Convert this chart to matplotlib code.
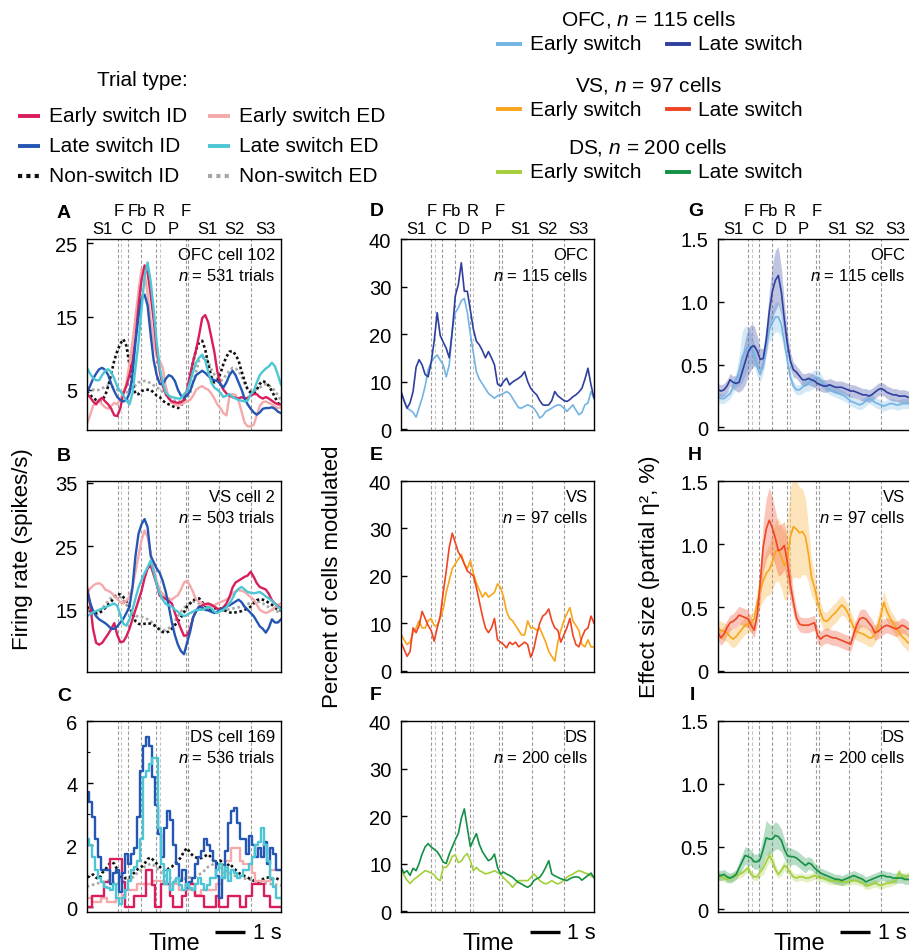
#!/usr/bin/env python3
"""Single-cell and population switch-trial responses in OFC, VS and DS."""

import numpy as np
import matplotlib
matplotlib.use("Agg")
import matplotlib.pyplot as plt
import matplotlib.transforms as mtransforms

plt.rcParams["font.family"] = ["Liberation Sans", "DejaVu Sans"]
plt.rcParams["mathtext.fontset"] = "custom"
plt.rcParams["mathtext.it"] = "Liberation Sans:italic"
plt.rcParams["mathtext.rm"] = "Liberation Sans"

# ---------------------------------------------------------------- data
TIME = np.linspace(0, 6.4, 65)  # s, 0.1 s bins

EVENT_TIMES = [1.01, 1.12, 1.36, 1.79, 2.28, 2.40, 3.26, 3.34, 4.36, 5.40]
EVENT_LOW = [("S1", 0.5), ("C", 1.3), ("D", 2.07), ("P", 2.83),
             ("S1", 3.97), ("S2", 4.86), ("S3", 5.87)]
EVENT_HIGH = [("F", 1.03), ("Fb", 1.67), ("R", 2.37), ("F", 3.26)]

# A: OFC cell 102 (spikes/s)
A_early_id = [4.4, 4.0, 3.4, 3.0, 3.6, 3.9, 3.4, 3.0, 2.4, 1.5,
              1.4, 2.5, 4.5, 5.5, 7.0, 8.8, 12.0, 16.5, 20.0, 22.0,
              21.0, 18.0, 14.5, 10.5, 7.5, 5.5, 4.4, 3.8, 3.4, 3.3,
              3.2, 3.3, 3.6, 5.0, 7.0, 8.8, 10.5, 12.5, 14.8, 15.2,
              14.2, 12.2, 10.2, 7.5, 5.8, 5.0, 4.5, 4.2, 4.0, 3.9,
              3.8, 4.0, 3.8, 3.9, 4.2, 4.4, 4.4, 4.0, 3.8, 4.0,
              3.8, 3.5, 3.2, 3.0, 3.0]
A_early_ed = [0.3, 1.5, 2.8, 3.3, 3.5, 3.0, 2.6, 2.4, 2.8, 3.2,
              3.0, 3.8, 4.5, 6.0, 8.5, 11.5, 15.0, 18.5, 21.5, 21.0,
              18.0, 14.5, 11.5, 9.5, 9.0, 8.0, 5.5, 3.8, 3.2, 3.0,
              2.8, 3.0, 3.2, 3.4, 3.6, 4.2, 5.0, 5.3, 5.5, 5.2,
              5.0, 4.5, 3.8, 3.0, 2.5, 1.8, 1.5, 4.2, 4.4, 4.3,
              3.5, 2.0, 0.5, 0.0, 0.0, 0.2, 1.5, 2.8, 3.3, 3.4,
              3.2, 3.0, 2.7, 2.5, 2.6]
A_late_id = [4.6, 5.5, 6.5, 7.2, 7.8, 8.0, 7.7, 7.0, 5.8, 4.8,
             4.0, 3.6, 3.4, 3.6, 4.5, 7.0, 11.5, 15.0, 17.5, 18.0,
             16.5, 12.5, 9.0, 7.0, 5.8, 5.8, 6.5, 7.0, 6.8, 6.2,
             5.0, 4.2, 3.9, 4.2, 4.8, 6.0, 7.0, 7.3, 7.6, 7.3,
             6.9, 6.5, 6.3, 6.2, 5.8, 5.3, 6.0, 7.0, 7.6, 7.0,
             6.0, 5.0, 3.8, 3.0, 2.4, 1.9, 1.6, 1.9, 2.4, 2.5,
             2.5, 2.6, 2.4, 2.0, 1.8]
A_late_ed = [8.0, 7.2, 6.6, 6.3, 6.3, 7.0, 7.6, 7.8, 7.4, 6.5,
             5.4, 4.8, 4.2, 3.5, 3.0, 4.5, 8.0, 11.5, 16.0, 20.5,
             22.4, 19.8, 16.0, 11.5, 8.0, 6.0, 4.6, 4.2, 4.0, 3.9,
             3.8, 3.8, 4.4, 4.8, 6.0, 7.5, 8.7, 9.4, 9.8, 9.0,
             7.4, 6.0, 5.3, 5.0, 4.6, 4.0, 4.2, 4.4, 4.0, 3.8,
             3.6, 3.5, 3.4, 3.5, 4.4, 4.8, 6.0, 7.0, 7.5, 7.9,
             8.2, 8.7, 8.2, 7.0, 5.7]
A_non_id = [4.8, 4.3, 3.9, 3.6, 3.4, 3.6, 4.2, 5.5, 7.2, 9.0,
            10.3, 11.3, 11.9, 11.0, 8.5, 6.0, 4.4, 4.4, 4.8, 5.0,
            5.0, 5.0, 4.6, 4.2, 4.0, 3.5, 3.2, 3.0, 2.8, 2.6,
            2.5, 2.8, 3.6, 4.8, 6.5, 8.8, 10.5, 11.5, 11.7, 10.5,
            8.5, 6.8, 6.0, 6.2, 7.2, 8.5, 9.5, 10.2, 10.3, 9.8,
            9.0, 7.5, 6.2, 5.0, 4.6, 4.5, 5.0, 5.8, 6.2, 6.0,
            5.5, 4.8, 4.0, 3.2, 2.8]
A_non_ed = [5.3, 5.2, 5.0, 4.9, 5.0, 5.2, 5.4, 5.6, 5.5, 5.2,
            5.0, 4.8, 4.6, 4.6, 5.0, 5.3, 5.6, 6.0, 6.1, 6.2,
            6.1, 5.9, 5.6, 5.3, 5.1, 4.7, 4.3, 3.8, 3.6, 3.5,
            3.4, 3.4, 3.6, 3.8, 4.5, 6.0, 7.5, 9.0, 9.3, 9.4,
            8.8, 7.8, 7.1, 6.6, 6.2, 6.5, 7.1, 7.6, 8.0, 7.9,
            7.6, 6.8, 5.8, 5.2, 4.9, 4.9, 5.1, 5.3, 5.6, 5.8,
            5.6, 5.2, 4.9, 4.2, 3.6]

# B: VS cell 2 (spikes/s)
B_early_id = [18.6, 16.0, 12.0, 9.8, 9.5, 9.8, 10.5, 11.2, 12.0, 12.9,
              11.0, 9.9, 10.0, 10.8, 12.0, 13.5, 15.0, 16.5, 18.0, 20.0,
              21.5, 22.0, 20.5, 19.0, 17.2, 17.0, 16.7, 16.4, 16.0, 14.5,
              13.2, 12.0, 10.9, 11.0, 12.0, 13.8, 14.8, 15.5, 15.7, 15.9,
              16.0, 15.8, 15.5, 15.2, 15.0, 15.4, 16.0, 17.0, 18.5, 19.3,
              19.6, 19.9, 20.2, 20.4, 21.0, 20.2, 19.2, 18.6, 18.4, 18.2,
              17.5, 16.5, 16.0, 15.6, 15.3]
B_early_ed = [17.6, 18.3, 18.8, 19.1, 19.2, 18.9, 18.2, 18.0, 17.7, 17.2,
              16.7, 16.2, 16.0, 16.4, 17.1, 18.5, 21.0, 23.5, 26.0, 27.5,
              26.5, 24.0, 21.5, 19.5, 18.1, 17.5, 17.0, 16.8, 16.6, 17.0,
              17.3, 18.2, 19.3, 19.6, 18.8, 17.8, 16.6, 16.3, 16.0, 15.8,
              15.6, 15.5, 15.7, 16.0, 16.2, 16.4, 16.6, 17.0, 17.6, 17.9,
              18.1, 18.0, 17.8, 17.4, 17.0, 16.6, 15.8, 15.0, 14.7, 14.5,
              14.7, 15.0, 15.4, 15.8, 16.0]
B_late_id = [18.1, 16.2, 14.8, 14.0, 13.5, 13.2, 12.9, 12.5, 12.0, 12.0,
             12.4, 13.0, 13.6, 14.5, 15.5, 18.5, 23.5, 27.0, 28.5, 29.3,
             28.0, 23.5, 22.5, 21.5, 20.8, 19.5, 17.8, 15.5, 13.0, 11.0,
             9.5, 8.5, 8.0, 9.8, 11.5, 13.8, 14.8, 15.5, 15.3, 15.0,
             14.9, 14.7, 14.5, 14.7, 15.0, 15.2, 15.5, 15.7, 16.0, 16.3,
             16.6, 16.2, 15.5, 15.0, 14.5, 14.0, 13.2, 12.4, 12.0, 11.4,
             12.2, 13.5, 13.0, 13.0, 13.5]
B_late_ed = [14.0, 14.3, 14.6, 14.8, 15.0, 15.2, 15.4, 15.6, 15.8, 16.0,
             15.6, 14.2, 12.8, 12.5, 13.5, 15.0, 16.8, 18.5, 19.7, 20.8,
             21.7, 22.8, 21.0, 19.0, 17.6, 16.6, 15.9, 15.7, 15.5, 15.0,
             14.7, 14.3, 14.0, 14.2, 14.5, 14.7, 15.0, 15.0, 15.0, 15.2,
             15.5, 15.2, 14.7, 14.5, 14.8, 15.0, 15.4, 16.0, 16.8, 17.8,
             18.3, 18.6, 18.2, 17.8, 17.7, 17.6, 17.7, 17.8, 17.5, 17.1,
             16.8, 16.4, 16.0, 15.5, 15.0]
B_non_id = [15.5, 14.8, 14.5, 14.5, 14.5, 14.8, 15.3, 15.8, 16.3, 17.0,
            17.5, 17.4, 17.0, 16.4, 15.5, 14.5, 13.2, 12.8, 12.7, 12.8,
            12.9, 12.8, 12.6, 12.3, 11.8, 11.5, 11.4, 11.6, 12.0, 12.6,
            13.2, 13.8, 14.6, 15.5, 16.0, 16.5, 16.7, 16.8, 16.2, 15.6,
            15.2, 15.0, 15.2, 15.3, 15.2, 15.0, 14.8, 14.6, 14.5, 14.6,
            14.7, 14.8, 15.0, 15.2, 15.5, 16.0, 16.5, 16.7, 16.6, 16.4,
            16.1, 15.8, 15.3, 15.0, 14.9]
B_non_ed = [15.0, 14.6, 14.2, 14.2, 14.6, 15.2, 15.8, 16.4, 16.9, 17.2,
            17.2, 17.0, 16.5, 15.8, 15.0, 14.3, 14.0, 14.0, 13.9, 13.7,
            13.5, 13.2, 12.8, 12.4, 12.0, 11.8, 11.8, 12.1, 12.6, 13.3,
            14.0, 14.7, 15.3, 15.8, 16.1, 16.3, 16.2, 16.0, 15.6, 15.3,
            15.1, 15.0, 14.9, 14.8, 14.8, 14.9, 15.0, 15.1, 15.2, 15.3,
            15.4, 15.5, 15.7, 15.9, 16.1, 16.3, 16.3, 16.2, 16.0, 15.7,
            15.4, 15.1, 14.9, 14.7, 14.6]

# C: DS cell 169 (spikes/s)
C_early_id = [0, 0, 0.35, 0.35, 0.35, 0.35, 0.8, 0.8, 1.55, 1.55,
              1.55, 1.55, 0.8, 0, 0, 0, 0.35, 0.35, 0.35, 0.35,
              1.2, 1.2, 0.7, 0, 0, 0.75, 0.75, 0.75, 0.35, 0,
              0, 0, 0.35, 0.75, 0.75, 0.75, 0.35, 0.35, 0.35, 0,
              0, 0, 0, 0.35, 0, 0, 0, 0.35, 0.35, 0.35,
              0.35, 0, 0, 0.35, 0.35, 0.75, 0.75, 0.75, 0.75, 0.35,
              0.35, 0, 0, 0, 0]
C_early_ed = [0.3, 0.3, 0.15, 0.15, 0.15, 0.3, 0.3, 0.15, 0.15, 0.15,
              0.3, 0.3, 0.4, 0.55, 0.55, 0.55, 0.55, 0.75, 0.75, 0.75,
              0.75, 0.75, 0.85, 0.85, 0.85, 0.85, 0.85, 0.75, 0.75, 0.75,
              0.75, 0.55, 0.55, 0.55, 0.55, 0.55, 0.4, 0.4, 0.55, 0.55,
              0.55, 0.55, 0.55, 0.75, 0.75, 1.1, 1.5, 1.5, 1.9, 1.9,
              1.9, 1.5, 1.4, 1.4, 1.4, 1.1, 0.85, 0.85, 0.85, 0.85,
              0.85, 1.2, 1.2, 1.2, 1.2]
C_late_id = [3.7, 3.4, 2.9, 2.2, 1.6, 1.2, 1.2, 1.2, 0.75, 1.1,
             1.2, 0.5, 1.1, 1.7, 1.4, 1.7, 1.9, 2.9, 4.4, 5.2,
             5.5, 5.2, 4.2, 3.3, 2.35, 1.6, 2.55, 3.1, 2.8, 2.0,
             1.4, 0.85, 1.2, 0.6, 0.8, 0.95, 1.4, 1.6, 1.8, 2.2,
             2.0, 1.8, 1.5, 1.0, 0.3, 0.95, 1.8, 2.7, 3.1, 3.2,
             2.7, 2.2, 2.2, 1.7, 2.3, 2.0, 1.6, 1.9, 1.6, 2.1,
             1.4, 1.9, 1.7, 1.2, 1.2]
C_late_ed = [2.2, 2.0, 1.6, 1.2, 0.95, 0.8, 0.65, 0.6, 0.55, 0.75,
             0.3, 0.1, 0.3, 0.55, 0.85, 1.2, 1.3, 1.5, 2.2, 4.2,
             4.4, 4.6, 4.8, 4.8, 2.55, 1.4, 0.75, 1.2, 0.55, 0.8,
             0.95, 0.7, 0.55, 0.75, 0.6, 0.55, 0.75, 0.95, 0.75, 0.55,
             0.7, 0.95, 0.95, 1.2, 1.4, 0.95, 1.3, 0.85, 1.2, 1.1,
             0.95, 1.0, 1.2, 1.2, 1.4, 1.6, 2.0, 2.1, 2.55, 2.0,
             1.5, 0.95, 0.65, 0.3, 0.3]
C_non_id = [0.95, 1.0, 1.05, 0.95, 0.9, 1.1, 1.2, 1.35, 1.45, 1.4,
            1.2, 1.0, 0.9, 0.95, 0.95, 1.05, 1.15, 1.25, 1.3, 1.4,
            1.55, 1.6, 1.5, 1.4, 1.3, 1.2, 1.15, 1.25, 1.3, 1.4,
            1.5, 1.6, 1.8, 1.9, 1.75, 1.65, 1.6, 1.55, 1.6, 1.65,
            1.7, 1.6, 1.45, 1.4, 1.5, 1.4, 1.3, 1.4, 1.3, 1.2,
            1.1, 1.05, 1.0, 0.95, 0.9, 0.85, 0.8, 0.85, 0.9, 0.95,
            0.95, 0.9, 0.95, 0.9, 0.85]
C_non_ed = [0.65, 0.7, 0.72, 0.75, 0.78, 0.8, 0.82, 0.85, 0.8, 0.78,
            0.75, 0.78, 0.8, 0.85, 0.88, 0.95, 1.05, 1.12, 1.2, 1.3,
            1.35, 1.4, 1.35, 1.25, 1.15, 1.05, 1.0, 0.95, 0.9, 0.85,
            0.85, 0.88, 0.9, 0.95, 0.95, 0.98, 1.0, 1.05, 1.1, 1.2,
            1.3, 1.35, 1.4, 1.38, 1.3, 1.2, 1.15, 1.1, 1.05, 1.0,
            0.98, 0.95, 0.92, 0.9, 0.88, 0.85, 0.82, 0.8, 0.78, 0.76,
            0.75, 0.74, 0.72, 0.72, 0.7]

# D-F: percent of cells modulated
D_early = [7.9, 6.0, 4.4, 4.0, 3.5, 2.5, 4.5, 6.5, 9.0, 12.5,
           14.0, 15.0, 15.6, 14.5, 13.5, 11.0, 13.5, 21.0, 24.5, 25.5,
           27.0, 27.5, 24.5, 20.0, 16.0, 12.0, 10.5, 9.5, 8.5, 7.5,
           7.0, 6.5, 7.0, 7.2, 7.5, 7.9, 7.5, 6.5, 5.5, 4.5,
           4.4, 4.8, 5.1, 4.8, 4.4, 3.5, 2.3, 2.8, 3.7, 4.0,
           4.4, 4.8, 5.1, 5.0, 4.4, 3.7, 4.4, 5.1, 4.0, 3.0,
           3.5, 5.1, 5.5, 7.9, 6.5]
D_late = [7.9, 6.0, 4.4, 5.5, 7.9, 13.0, 14.6, 13.5, 11.5, 11.0,
          14.0, 18.5, 24.5, 19.7, 18.3, 17.0, 15.0, 20.5, 28.0, 30.4,
          35.0, 29.0, 29.0, 25.0, 21.0, 18.5, 17.7, 16.5, 15.0, 16.3,
          15.0, 13.5, 9.5, 9.0, 10.0, 10.7, 9.3, 9.9, 10.3, 10.7,
          11.2, 12.1, 10.0, 8.6, 7.8, 7.2, 6.0, 5.1, 5.0, 5.1,
          6.0, 7.9, 7.0, 6.5, 6.0, 5.8, 6.2, 6.8, 7.2, 7.8,
          8.6, 10.5, 12.8, 9.3, 6.5]
E_early = [7.7, 6.5, 5.5, 6.0, 8.0, 9.0, 10.5, 9.0, 9.0, 10.5,
           11.0, 9.5, 9.5, 11.0, 13.0, 16.5, 19.0, 21.5, 22.5, 23.5,
           24.5, 22.5, 21.5, 23.3, 20.5, 18.5, 17.0, 15.5, 16.5, 15.5,
           16.0, 16.5, 18.3, 17.5, 15.5, 12.5, 11.0, 10.5, 9.5, 8.5,
           7.5, 7.5, 10.5, 9.0, 9.0, 8.5, 9.0, 7.5, 6.0, 4.0,
           3.0, 2.0, 6.0, 8.5, 10.5, 12.0, 13.3, 10.5, 9.5, 8.5,
           5.5, 5.0, 6.5, 5.0, 5.0]
E_late = [6.0, 4.5, 3.0, 4.0, 9.0, 8.0, 9.5, 12.5, 11.0, 9.5,
          8.5, 6.2, 9.0, 11.5, 16.5, 21.0, 26.0, 29.0, 27.0, 25.0,
          24.0, 22.5, 21.0, 20.5, 20.0, 17.5, 14.5, 11.5, 9.0, 8.0,
          9.0, 11.0, 6.5, 6.0, 5.5, 4.8, 6.0, 5.5, 6.0, 5.0,
          5.5, 6.0, 5.5, 2.8, 4.5, 7.5, 10.0, 11.5, 12.0, 13.0,
          10.5, 9.0, 8.5, 6.0, 7.5, 9.0, 11.0, 7.5, 5.5, 5.0,
          7.0, 8.5, 9.0, 11.5, 10.0]
F_early = [9.0, 7.5, 6.5, 5.8, 6.5, 7.0, 7.5, 8.0, 8.5, 8.3,
           8.0, 7.6, 6.8, 6.4, 9.2, 9.2, 10.0, 11.5, 11.8, 10.2,
           10.5, 11.5, 12.1, 10.6, 8.5, 9.2, 8.5, 8.2, 7.8, 8.0,
           8.2, 8.5, 8.1, 7.8, 7.0, 6.4, 5.8, 5.0, 5.8, 6.4,
           6.4, 6.4, 6.4, 7.0, 7.8, 7.2, 6.4, 6.0, 5.7, 6.0,
           6.4, 6.0, 5.7, 6.0, 6.5, 7.1, 7.5, 7.8, 8.2, 8.5,
           8.3, 8.0, 7.8, 7.4, 7.1]
F_late = [9.2, 8.0, 8.5, 7.5, 9.0, 8.5, 10.0, 12.0, 13.5, 14.2,
          13.5, 13.0, 12.5, 11.5, 10.3, 10.0, 12.0, 13.5, 15.0, 16.3,
          19.5, 21.5, 17.5, 13.5, 15.0, 16.3, 14.0, 12.5, 11.5, 10.6,
          11.0, 12.0, 9.2, 7.8, 8.2, 7.8, 7.5, 7.1, 6.5, 6.0,
          5.7, 5.3, 5.0, 5.4, 6.4, 6.8, 7.1, 8.0, 9.2, 10.6,
          7.8, 7.4, 7.1, 6.8, 6.6, 6.4, 6.8, 7.1, 7.2, 7.1,
          6.5, 7.0, 7.5, 8.0, 7.0]

# G-I: effect size (partial eta^2, %) with error bands
G_early = [0.24, 0.23, 0.23, 0.25, 0.27, 0.32, 0.38, 0.45, 0.56, 0.61,
           0.64, 0.63, 0.58, 0.48, 0.42, 0.50, 0.66, 0.78, 0.83, 0.88,
           0.88, 0.82, 0.68, 0.53, 0.40, 0.33, 0.30, 0.30, 0.32, 0.34,
           0.35, 0.37, 0.39, 0.40, 0.38, 0.35, 0.32, 0.30, 0.29, 0.28,
           0.27, 0.26, 0.25, 0.23, 0.21, 0.20, 0.19, 0.18, 0.19, 0.21,
           0.23, 0.22, 0.20, 0.19, 0.18, 0.17, 0.18, 0.19, 0.19, 0.18,
           0.18, 0.19, 0.19, 0.19, 0.19]
G_early_err = [0.04, 0.04, 0.04, 0.04, 0.04, 0.05, 0.06, 0.12, 0.20, 0.20,
               0.16, 0.12, 0.09, 0.07, 0.06, 0.07, 0.09, 0.10, 0.11, 0.12,
               0.12, 0.10, 0.08, 0.06, 0.05, 0.04, 0.04, 0.04, 0.05, 0.05,
               0.06, 0.07, 0.07, 0.06, 0.05, 0.04, 0.04, 0.04, 0.04, 0.04,
               0.04, 0.04, 0.04, 0.04, 0.04, 0.04, 0.04, 0.04, 0.04, 0.04,
               0.04, 0.04, 0.04, 0.04, 0.04, 0.04, 0.04, 0.04, 0.04, 0.04,
               0.04, 0.04, 0.04, 0.04, 0.04]
G_late = [0.30, 0.29, 0.30, 0.33, 0.38, 0.36, 0.35, 0.36, 0.44, 0.52,
          0.60, 0.64, 0.65, 0.61, 0.54, 0.55, 0.70, 0.92, 1.08, 1.17,
          1.21, 1.08, 0.86, 0.67, 0.53, 0.46, 0.44, 0.41, 0.38, 0.38,
          0.39, 0.38, 0.37, 0.35, 0.34, 0.33, 0.33, 0.34, 0.33, 0.32,
          0.32, 0.32, 0.31, 0.30, 0.29, 0.29, 0.28, 0.27, 0.26, 0.26,
          0.25, 0.26, 0.28, 0.30, 0.31, 0.30, 0.28, 0.27, 0.26, 0.26,
          0.25, 0.25, 0.25, 0.24, 0.24]
G_late_err = [0.05, 0.05, 0.05, 0.05, 0.05, 0.05, 0.06, 0.08, 0.14, 0.18,
              0.19, 0.18, 0.16, 0.12, 0.09, 0.08, 0.11, 0.16, 0.21, 0.24,
              0.23, 0.19, 0.14, 0.09, 0.07, 0.06, 0.05, 0.05, 0.05, 0.05,
              0.05, 0.05, 0.05, 0.05, 0.05, 0.05, 0.05, 0.05, 0.05, 0.05,
              0.05, 0.05, 0.05, 0.05, 0.05, 0.05, 0.05, 0.05, 0.05, 0.05,
              0.05, 0.05, 0.05, 0.05, 0.05, 0.05, 0.05, 0.05, 0.05, 0.05,
              0.05, 0.05, 0.05, 0.05, 0.05]
H_early = [0.33, 0.32, 0.31, 0.30, 0.27, 0.25, 0.27, 0.30, 0.33, 0.36,
           0.37, 0.38, 0.41, 0.54, 0.63, 0.71, 0.77, 0.80, 0.86, 0.94,
           0.96, 0.90, 0.83, 0.88, 1.06, 1.14, 1.12, 1.09, 1.10, 1.06,
           0.92, 0.74, 0.66, 0.55, 0.46, 0.40, 0.39, 0.41, 0.44, 0.46,
           0.49, 0.52, 0.50, 0.46, 0.40, 0.34, 0.31, 0.30, 0.29, 0.28,
           0.26, 0.26, 0.29, 0.35, 0.44, 0.54, 0.47, 0.42, 0.38, 0.34,
           0.31, 0.27, 0.25, 0.22, 0.22]
H_early_err = [0.07, 0.07, 0.07, 0.07, 0.07, 0.07, 0.07, 0.07, 0.07, 0.07,
               0.07, 0.07, 0.08, 0.10, 0.13, 0.16, 0.18, 0.20, 0.22, 0.24,
               0.25, 0.25, 0.27, 0.32, 0.38, 0.40, 0.38, 0.36, 0.34, 0.30,
               0.22, 0.15, 0.11, 0.09, 0.08, 0.07, 0.07, 0.08, 0.08, 0.08,
               0.08, 0.08, 0.07, 0.07, 0.07, 0.07, 0.07, 0.07, 0.07, 0.07,
               0.07, 0.07, 0.07, 0.08, 0.09, 0.09, 0.08, 0.07, 0.07, 0.07,
               0.07, 0.07, 0.07, 0.07, 0.07]
H_late = [0.30, 0.26, 0.29, 0.34, 0.38, 0.39, 0.41, 0.44, 0.43, 0.42,
          0.41, 0.36, 0.32, 0.44, 0.70, 0.98, 1.12, 1.19, 1.13, 1.05,
          0.95, 0.96, 0.99, 0.86, 0.68, 0.54, 0.42, 0.37, 0.36, 0.36,
          0.36, 0.37, 0.38, 0.28, 0.25, 0.27, 0.28, 0.27, 0.26, 0.26,
          0.25, 0.24, 0.23, 0.22, 0.21, 0.29, 0.36, 0.41, 0.42, 0.41,
          0.38, 0.35, 0.30, 0.31, 0.33, 0.35, 0.36, 0.35, 0.34, 0.33,
          0.34, 0.36, 0.35, 0.33, 0.34]
H_late_err = [0.06, 0.06, 0.06, 0.06, 0.06, 0.06, 0.07, 0.07, 0.07, 0.07,
              0.07, 0.06, 0.06, 0.08, 0.14, 0.20, 0.24, 0.26, 0.24, 0.22,
              0.20, 0.20, 0.19, 0.16, 0.12, 0.09, 0.07, 0.06, 0.06, 0.06,
              0.06, 0.06, 0.06, 0.06, 0.06, 0.06, 0.06, 0.06, 0.06, 0.06,
              0.06, 0.06, 0.06, 0.06, 0.06, 0.06, 0.06, 0.07, 0.07, 0.07,
              0.06, 0.06, 0.06, 0.06, 0.06, 0.06, 0.06, 0.06, 0.06, 0.06,
              0.06, 0.06, 0.06, 0.06, 0.06]
I_early = [0.27, 0.26, 0.25, 0.24, 0.25, 0.26, 0.27, 0.28, 0.29, 0.31,
           0.33, 0.28, 0.26, 0.26, 0.30, 0.33, 0.38, 0.43, 0.39, 0.32,
           0.28, 0.31, 0.35, 0.33, 0.29, 0.26, 0.25, 0.26, 0.26, 0.25,
           0.25, 0.26, 0.27, 0.26, 0.25, 0.25, 0.24, 0.23, 0.23, 0.23,
           0.22, 0.22, 0.22, 0.22, 0.23, 0.23, 0.23, 0.22, 0.21, 0.19,
           0.19, 0.20, 0.21, 0.20, 0.19, 0.20, 0.21, 0.21, 0.22, 0.23,
           0.30, 0.26, 0.26, 0.27, 0.27]
I_early_err = [0.03, 0.03, 0.03, 0.03, 0.03, 0.03, 0.03, 0.03, 0.03, 0.03,
               0.03, 0.03, 0.03, 0.03, 0.04, 0.05, 0.05, 0.05, 0.05, 0.04,
               0.03, 0.04, 0.04, 0.04, 0.03, 0.03, 0.03, 0.03, 0.03, 0.03,
               0.03, 0.03, 0.03, 0.03, 0.03, 0.03, 0.03, 0.03, 0.03, 0.03,
               0.03, 0.03, 0.03, 0.03, 0.03, 0.03, 0.03, 0.03, 0.03, 0.03,
               0.03, 0.03, 0.03, 0.03, 0.03, 0.03, 0.03, 0.03, 0.03, 0.03,
               0.03, 0.03, 0.03, 0.03, 0.03]
I_late = [0.27, 0.27, 0.28, 0.26, 0.25, 0.26, 0.28, 0.33, 0.38, 0.43,
          0.42, 0.41, 0.38, 0.38, 0.40, 0.48, 0.57, 0.56, 0.56, 0.59,
          0.58, 0.55, 0.48, 0.43, 0.42, 0.42, 0.41, 0.39, 0.37, 0.35,
          0.37, 0.36, 0.33, 0.31, 0.29, 0.28, 0.27, 0.26, 0.25, 0.24,
          0.24, 0.23, 0.24, 0.25, 0.26, 0.27, 0.26, 0.25, 0.24, 0.22,
          0.23, 0.24, 0.25, 0.26, 0.27, 0.27, 0.26, 0.26, 0.25, 0.25,
          0.25, 0.25, 0.24, 0.24, 0.23]
I_late_err = [0.04, 0.04, 0.04, 0.04, 0.04, 0.04, 0.04, 0.05, 0.06, 0.07,
              0.07, 0.06, 0.06, 0.06, 0.08, 0.11, 0.14, 0.12, 0.11, 0.11,
              0.10, 0.09, 0.08, 0.07, 0.07, 0.06, 0.06, 0.06, 0.06, 0.06,
              0.05, 0.05, 0.04, 0.04, 0.04, 0.04, 0.04, 0.04, 0.04, 0.04,
              0.04, 0.04, 0.04, 0.04, 0.04, 0.04, 0.04, 0.04, 0.04, 0.04,
              0.04, 0.04, 0.04, 0.04, 0.04, 0.04, 0.04, 0.04, 0.04, 0.04,
              0.04, 0.04, 0.04, 0.04, 0.04]

# ---------------------------------------------------------------- styles
TRIAL_STYLE = {
    "Early switch ID": dict(color="#d81e5b", ls="-"),
    "Late switch ID": dict(color="#2456b3", ls="-"),
    "Non-switch ID": dict(color="#111111", ls=(0, (1, 1))),
    "Early switch ED": dict(color="#f5a9aa", ls="-"),
    "Late switch ED": dict(color="#4cc6d4", ls="-"),
    "Non-switch ED": dict(color="#a8a8a8", ls=(0, (1, 1))),
}
REGION_COLORS = {
    "OFC": ("#72b4e4", "#2e3f9e"),
    "VS": ("#f9a51b", "#ef4523"),
    "DS": ("#a3cf3a", "#139044"),
}

W, H = 909, 953
COLS = [(87, 281), (401, 594), (718, 911)]
ROWS = [(240, 431), (482, 673), (722, 913)]


def rect(col, row):
    (x0, x1), (y0, y1) = COLS[col], ROWS[row]
    return [x0 / W, 1 - y1 / H, (x1 - x0) / W, (y1 - y0) / H]


def setup(ax, ylim, yticks, yticklabels=None):
    ax.set_xlim(0, 6.4)
    ax.set_ylim(*ylim)
    ax.set_xticks([])
    ax.set_yticks(yticks)
    if yticklabels:
        ax.set_yticklabels(yticklabels)
    ax.tick_params(axis="y", direction="in", length=4, width=1, pad=7,
                   labelsize=14.5)
    for sp in ax.spines.values():
        sp.set_linewidth(1.0)
    for i, t in enumerate(EVENT_TIMES):
        ax.axvline(t, color="#9a9a9a" if i not in (1, 5) else "#c4c4c4",
                   lw=0.8, ls=(0, (3, 2)), zorder=0)


def corner_text(ax, line1, line2):
    ax.annotate(line1, xy=(1, 1), xycoords="axes fraction",
                xytext=(-6, -15), textcoords="offset pixels",
                ha="right", va="center", fontsize=12)
    ax.annotate(line2, xy=(1, 1), xycoords="axes fraction",
                xytext=(-6, -36), textcoords="offset pixels",
                ha="right", va="center", fontsize=12)


def event_labels(ax):
    for lab, t in EVENT_LOW:
        ax.annotate(lab, xy=(t, 1), xycoords=("data", "axes fraction"),
                    xytext=(0, 11), textcoords="offset pixels",
                    ha="center", va="center", fontsize=12)
    for lab, t in EVENT_HIGH:
        ax.annotate(lab, xy=(t, 1), xycoords=("data", "axes fraction"),
                    xytext=(0, 28), textcoords="offset pixels",
                    ha="center", va="center", fontsize=12)


def time_bar(ax, bar_start, time_x):
    trans = mtransforms.blended_transform_factory(ax.transData, ax.transAxes)
    ax.plot([bar_start, bar_start + 1], [-0.105, -0.105], color="black",
            lw=2.4, transform=trans, clip_on=False, solid_capstyle="butt")
    ax.text(bar_start + 1.25, -0.105, "1 s", transform=trans,
            ha="left", va="center", fontsize=15.5)
    ax.text(time_x, -0.16, "Time", transform=trans,
            ha="center", va="center", fontsize=17)


def plot_cell(ax, traces, steps=False):
    order = ["Non-switch ED", "Non-switch ID", "Early switch ED",
             "Early switch ID", "Late switch ID", "Late switch ED"]
    for name in order:
        st = TRIAL_STYLE[name]
        vals = traces[name]
        dotted = "Non" in name
        lw = 1.9 if dotted else 1.7
        if steps and not dotted:
            ax.step(TIME, vals, where="mid", color=st["color"], lw=lw)
        else:
            ax.plot(TIME, vals, color=st["color"], ls=st["ls"], lw=lw)


def plot_pop(ax, region, early, late):
    c_early, c_late = REGION_COLORS[region]
    ax.plot(TIME, early, color=c_early, lw=1.2)
    ax.plot(TIME, late, color=c_late, lw=1.2)


def plot_eff(ax, region, early, early_err, late, late_err):
    c_early, c_late = REGION_COLORS[region]
    for vals, err, c in ((early, early_err, c_early), (late, late_err, c_late)):
        vals = np.asarray(vals)
        err = np.asarray(err)
        ax.fill_between(TIME, vals - err, vals + err, color=c, alpha=0.3,
                        lw=0)
    ax.plot(TIME, early, color=c_early, lw=1.2)
    ax.plot(TIME, late, color=c_late, lw=1.2)


fig = plt.figure(figsize=(W / 100, H / 100), dpi=100)

# ---- column 1: single cells
axA = fig.add_axes(rect(0, 0))
setup(axA, (-0.5, 25.6), [5, 15, 25])
plot_cell(axA, {"Early switch ID": A_early_id, "Early switch ED": A_early_ed,
                "Late switch ID": A_late_id, "Late switch ED": A_late_ed,
                "Non-switch ID": A_non_id, "Non-switch ED": A_non_ed})
corner_text(axA, "OFC cell 102", "$n$ = 531 trials")
event_labels(axA)

axB = fig.add_axes(rect(0, 1))
setup(axB, (5.2, 35.3), [15, 25, 35])
plot_cell(axB, {"Early switch ID": B_early_id, "Early switch ED": B_early_ed,
                "Late switch ID": B_late_id, "Late switch ED": B_late_ed,
                "Non-switch ID": B_non_id, "Non-switch ED": B_non_ed})
corner_text(axB, "VS cell 2", "$n$ = 503 trials")

axC = fig.add_axes(rect(0, 2))
setup(axC, (-0.16, 6), [0, 2, 4, 6])
axC.set_yticks([1, 3, 5], minor=True)
axC.tick_params(axis="y", which="minor", direction="in", length=2, width=0.8)
plot_cell(axC, {"Early switch ID": C_early_id, "Early switch ED": C_early_ed,
                "Late switch ID": C_late_id, "Late switch ED": C_late_ed,
                "Non-switch ID": C_non_id, "Non-switch ED": C_non_ed},
          steps=True)
corner_text(axC, "DS cell 169", "$n$ = 536 trials")
time_bar(axC, 4.22, 2.87)

# ---- column 2: percent of cells modulated
axD = fig.add_axes(rect(1, 0))
setup(axD, (-0.2, 40), [0, 10, 20, 30, 40])
plot_pop(axD, "OFC", D_early, D_late)
corner_text(axD, "OFC", "$n$ = 115 cells")
event_labels(axD)

axE = fig.add_axes(rect(1, 1))
setup(axE, (-0.3, 40), [0, 10, 20, 30, 40])
plot_pop(axE, "VS", E_early, E_late)
corner_text(axE, "VS", "$n$ = 97 cells")

axF = fig.add_axes(rect(1, 2))
setup(axF, (-0.2, 40), [0, 10, 20, 30, 40])
plot_pop(axF, "DS", F_early, F_late)
corner_text(axF, "DS", "$n$ = 200 cells")
time_bar(axF, 4.27, 2.9)

# ---- column 3: effect size
eff_ticks = [0, 0.5, 1.0, 1.5]
eff_labels = ["0", "0.5", "1.0", "1.5"]
axG = fig.add_axes(rect(2, 0))
setup(axG, (-0.02, 1.5), eff_ticks, eff_labels)
plot_eff(axG, "OFC", G_early, G_early_err, G_late, G_late_err)
corner_text(axG, "OFC", "$n$ = 115 cells")
event_labels(axG)

axH = fig.add_axes(rect(2, 1))
setup(axH, (-0.01, 1.5), eff_ticks, eff_labels)
plot_eff(axH, "VS", H_early, H_early_err, H_late, H_late_err)
corner_text(axH, "VS", "$n$ = 97 cells")

axI = fig.add_axes(rect(2, 2))
setup(axI, (-0.02, 1.5), eff_ticks, eff_labels)
plot_eff(axI, "DS", I_early, I_early_err, I_late, I_late_err)
corner_text(axI, "DS", "$n$ = 200 cells")
time_bar(axI, 4.04, 2.7)

# ---- figure-level text, drawn on a pixel-coordinate overlay
lay = fig.add_axes([0, 0, 1, 1], facecolor="none")
lay.set_xlim(0, W)
lay.set_ylim(H, 0)
lay.axis("off")

for letter, x, y in [("A", 57, 213), ("B", 57, 457), ("C", 57, 697),
                     ("D", 370, 212), ("E", 370, 456), ("F", 370, 696),
                     ("G", 688, 212), ("H", 688, 456), ("I", 690, 696)]:
    lay.text(x, y, letter, ha="left", va="center", fontsize=14,
             fontweight="bold")

lay.text(23, 549, "Firing rate (spikes/s)", rotation=90, ha="center",
         va="center", fontsize=16)
lay.text(333, 577, "Percent of cells modulated", rotation=90, ha="center",
         va="center", fontsize=16)
lay.text(650, 577, "Effect size (partial η², %)", rotation=90, ha="center",
         va="center", fontsize=16)

# trial type legend
lay.text(142, 80, "Trial type:", ha="center", va="center", fontsize=15)
legend_rows = [("Early switch ID", "Early switch ED"),
               ("Late switch ID", "Late switch ED"),
               ("Non-switch ID", "Non-switch ED")]
for r, (left, right) in enumerate(legend_rows):
    y = 117 + r * 30
    for name, lx in ((left, 18), (right, 208)):
        st = TRIAL_STYLE[name]
        lay.plot([lx, lx + 22], [y, y], color=st["color"], ls=st["ls"],
                 lw=3 if "Non" in name else 2.8, solid_capstyle="butt")
        lay.text(lx + 31, y, name, ha="left", va="center", fontsize=15)

# region legend
region_rows = [("OFC", "115", 20), ("VS", "97", 85), ("DS", "200", 148)]
for region, n, y in region_rows:
    c_early, c_late = REGION_COLORS[region]
    lay.text(648, y, f"{region}, $n$ = {n} cells", ha="center", va="center",
             fontsize=15)
    ye = y + 25
    lay.plot([498, 520], [ye, ye], color=c_early, lw=2.8)
    lay.text(530, ye, "Early switch", ha="left", va="center", fontsize=15)
    lay.plot([667, 689], [ye, ye], color=c_late, lw=2.8)
    lay.text(698, ye, "Late switch", ha="left", va="center", fontsize=15)

fig.savefig("out.png", dpi=100)
